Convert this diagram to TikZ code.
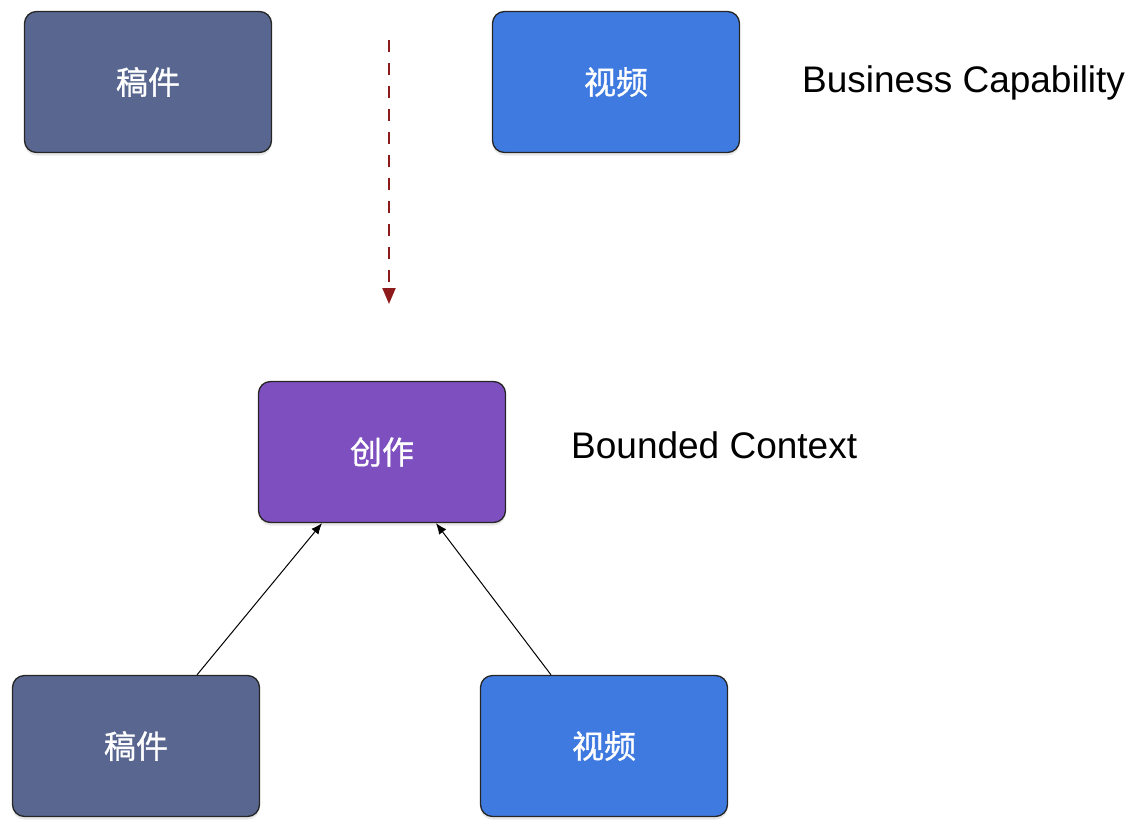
\documentclass[tikz,border=0pt]{standalone}
\usepackage{fontspec}
\setmainfont{Liberation Sans}
\newfontfamily\cjk[FakeBold=1]{Noto Sans CJK SC}
\usetikzlibrary{arrows.meta,shadows}

\definecolor{gaojiancol}{HTML}{586690}
\definecolor{shipincol}{HTML}{3F7AE0}
\definecolor{chuangzuocol}{HTML}{7E4FBF}
\definecolor{dashred}{HTML}{8E1B1B}

\tikzset{
  capbox/.style={draw=black!85,line width=1.3pt,rounded corners=12pt,
    minimum width=247pt,minimum height=141pt,inner sep=0pt,text=white,
    font=\cjk\fontsize{32}{38}\selectfont,
    drop shadow={opacity=0.18,shadow xshift=0pt,shadow yshift=-3pt}},
  captext/.style={inner sep=0pt,font=\fontsize{37}{43}\selectfont},
  uparrow/.style={draw=black,line width=1pt,-{Latex[length=11pt,width=9pt]}},
}

\begin{document}
\begin{tikzpicture}[x=1pt,y=-1pt]
  \useasboundingbox (0,0) rectangle (1140,832); % 画面の大きさ
  \node[capbox,fill=gaojiancol] (gaojianA) at (148,82) {稿件}; % 上段左の箱
  \node[capbox,fill=shipincol] (shipinA) at (616,82) {视频}; % 上段右の箱
  \node[captext,anchor=base west] (busicap) at (802,93) {Business Capability}; % 上段の説明
  \coordinate (dashtop) at (389,40); % 点線矢印の始点
  \coordinate (dashbot) at (389,304); % 点線矢印の終点
  \draw[dashred,line width=2pt,dash pattern=on 12pt off 11pt,
    -{Triangle[length=16pt,width=13pt]}] (dashtop) -- (dashbot); % 変換を示す点線矢印
  \node[capbox,fill=chuangzuocol] (chuangzuo) at (382,452) {创作}; % 中段の箱
  \node[captext,anchor=base west] (bndctx) at (571,458) {Bounded Context}; % 中段の説明
  \node[capbox,fill=gaojiancol] (gaojianB) at (136,746) {稿件}; % 下段左の箱
  \node[capbox,fill=shipincol] (shipinB) at (604,746) {视频}; % 下段右の箱
  \draw[uparrow] ([xshift=61pt]gaojianB.north) -- ([xshift=-60pt]chuangzuo.south); % 左の矢印
  \draw[uparrow] ([xshift=-53pt]shipinB.north) -- ([xshift=54pt]chuangzuo.south); % 右の矢印
\end{tikzpicture}
\end{document}
